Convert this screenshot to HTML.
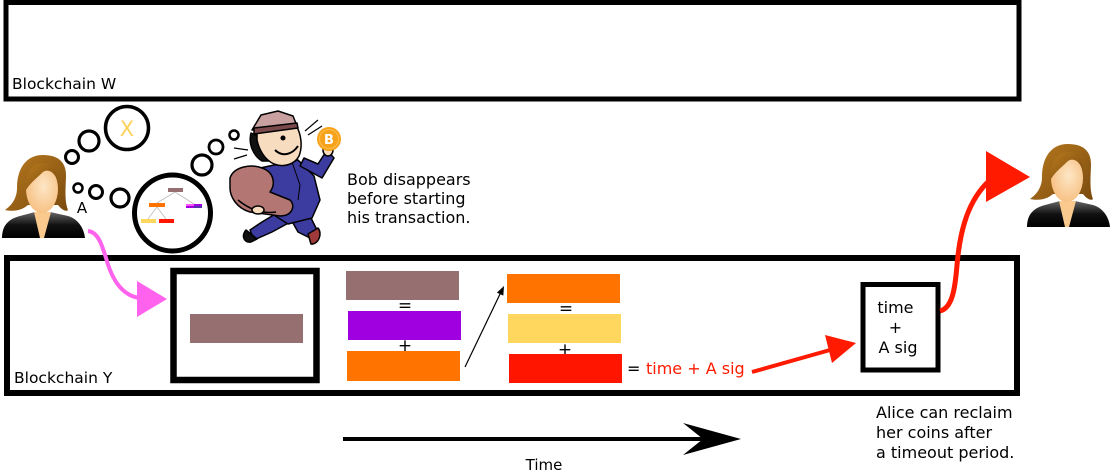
<!DOCTYPE html>
<html><head><meta charset="utf-8"><style>
html,body{margin:0;padding:0;background:#fff;}
svg{display:block;}
text{font-family:"DejaVu Sans","Liberation Sans",sans-serif;}
</style></head><body>
<svg width="1112" height="471" viewBox="0 0 1112 471" xmlns="http://www.w3.org/2000/svg">
<defs>
<linearGradient id="hair" x1="0" y1="0" x2="1" y2="1">
<stop offset="0" stop-color="#b87a1e"/><stop offset="1" stop-color="#7a4a0e"/></linearGradient>
<radialGradient id="skin" cx="0.55" cy="0.45" r="0.6">
<stop offset="0" stop-color="#fde6c6"/><stop offset="1" stop-color="#f7bf80"/></radialGradient>
<linearGradient id="suit" x1="0" y1="0" x2="0" y2="1">
<stop offset="0" stop-color="#666"/><stop offset="0.5" stop-color="#111"/><stop offset="1" stop-color="#000"/></linearGradient>
<g id="alice">
<path d="M43,155 C25,155 17,170 17,188 C17,198 12,205 5,210 C15,212 22,210 28,205 L58,205 C62,210 66,212 68,210 C64,200 66,185 66,175 C66,162 58,155 43,155 Z" fill="url(#hair)"/>
<path d="M2,238 C2,226 8,219 20,216 L35,212 L50,212 L68,216 C78,219 84,228 85,238 Z" fill="url(#suit)"/>
<path d="M34,212 L51,212 L44,238 L40,238 Z" fill="#f9c98e"/>
<ellipse cx="42" cy="189" rx="16" ry="24" fill="url(#skin)"/>
<path d="M26,188 C25,170 34,162 45,163 C53,164 57,170 58,182 C55,173 49,168 43,172 C37,178 31,182 26,190 Z" fill="url(#hair)"/>
</g>
</defs>

<!-- Blockchain W -->
<rect x="6" y="2.5" width="1013" height="96.5" fill="none" stroke="#000" stroke-width="5"/>
<text x="12" y="89" font-size="15.5" fill="#000">Blockchain W</text>

<!-- Blockchain Y -->
<rect x="7" y="258" width="1010" height="135" fill="none" stroke="#000" stroke-width="6"/>
<text x="14" y="383" font-size="15.5" fill="#000">Blockchain Y</text>

<!-- Alice left & right -->
<use href="#alice"/>
<use href="#alice" transform="translate(1025,-11)"/>
<text x="82" y="213" font-size="15" text-anchor="middle" fill="#000">A</text>

<!-- Thought bubbles -->
<g fill="none" stroke="#000">
<circle cx="72" cy="157" r="6.5" stroke-width="3"/>
<circle cx="89" cy="141" r="10" stroke-width="3.2"/>
<circle cx="127" cy="128" r="21.5" stroke-width="3.5"/>
<circle cx="78" cy="188" r="4.5" stroke-width="2.5"/>
<circle cx="96" cy="192" r="6.5" stroke-width="3"/>
<circle cx="120" cy="198" r="9" stroke-width="3.2"/>
<circle cx="172.5" cy="213" r="38" stroke-width="5"/>
<circle cx="202" cy="165" r="10" stroke-width="3.2"/>
<circle cx="216" cy="147" r="7" stroke-width="2.8"/>
<circle cx="234" cy="135" r="4.5" stroke-width="2.5"/>
</g>
<text x="127" y="136" font-size="21" text-anchor="middle" fill="#fcd35a">X</text>

<!-- mini tree -->
<g stroke="#bbb" stroke-width="0.8">
<line x1="175" y1="192" x2="157" y2="203"/>
<line x1="175" y1="192" x2="194" y2="204"/>
<line x1="157" y1="207" x2="148" y2="219"/>
<line x1="157" y1="207" x2="166" y2="219"/>
</g>
<rect x="168" y="188" width="15" height="4" fill="#967070"/>
<rect x="149" y="203" width="16" height="4" fill="#ff7300"/>
<rect x="186" y="204" width="16" height="4" fill="#a000e0"/>
<rect x="186" y="204" width="8" height="2" fill="#ff55ff"/>
<rect x="194" y="206" width="8" height="2" fill="#5533aa"/>
<rect x="141" y="219" width="15" height="4" fill="#ffd75e"/>
<rect x="159" y="219" width="15" height="4" fill="#ff1500"/>

<!-- Bob (simplified clipart) -->
<g stroke="#000" stroke-width="1.5" stroke-linejoin="round">
<!-- legs -->
<path d="M282,210 L262,222 L250,230 L254,240 L272,232 L294,220 Z" fill="#3c3ca0"/>
<path d="M288,214 L298,232 L310,238 L318,232 L308,212 Z" fill="#3c3ca0"/>
<path d="M246,230 C241,236 244,243 251,242 L257,239 Z" fill="#111"/>
<path d="M308,234 L318,228 C323,234 318,245 311,244 Z" fill="#a03a3a"/>
<!-- torso -->
<path d="M260,168 L298,160 L314,176 L320,200 L312,218 L288,224 L266,210 Z" fill="#3c3ca0"/>
<path d="M292,162 L300,185 L298,200" fill="none" stroke-width="1"/>
<!-- raised arm -->
<path d="M300,166 L322,178 L334,158 L327,150 L318,164 L304,158 Z" fill="#3c3ca0"/>
<ellipse cx="328" cy="150" rx="5" ry="6" fill="#f8dcc0"/>
<!-- bag -->
<path d="M230,178 C234,166 252,164 262,168 C274,172 276,184 270,192 L290,200 C296,206 292,216 280,216 L250,212 C236,208 230,196 230,188 Z" fill="#b37673"/>
<path d="M238,200 C250,210 262,214 276,212" fill="none"/>
<ellipse cx="258" cy="210" rx="6" ry="4" fill="#f8dcc0"/>
<!-- head -->
<path d="M251,133 C248,145 254,156 262,161 L269,161 L262,138 Z" fill="#111"/>
<path d="M257,130 L296,125 C301,134 303,146 299,156 C295,164 284,168 274,164 C265,160 259,150 257,140 Z" fill="#f8dcc0"/>
<path d="M275,150 C282,157 292,155 298,146" fill="none" stroke-width="2"/>
<circle cx="283" cy="138" r="1.8" fill="#000"/>
<!-- hat -->
<path d="M252,130 L261,115 L278,111 L293,116 L297,126 Z" fill="#c8a0a0"/>
<path d="M254,128 L297,123 L298,128 L254,134 Z" fill="#7a4a4a"/>
</g>
<g stroke="#000" stroke-width="1.2">
<line x1="305" y1="131" x2="318" y2="120"/>
<line x1="308" y1="135" x2="322" y2="126"/>
<line x1="234" y1="148" x2="248" y2="150"/>
<line x1="234" y1="159" x2="247" y2="155"/>
</g>
<!-- coin -->
<circle cx="329" cy="139" r="12" fill="#f7a21b"/>
<circle cx="329" cy="139" r="9.5" fill="none" stroke="#fbbf4a" stroke-width="1"/>
<text x="329" y="144" font-size="13" font-weight="bold" text-anchor="middle" fill="#fff">B</text>

<text font-size="16" fill="#000">
<tspan x="347" y="185">Bob disappears</tspan>
<tspan x="347" y="204">before starting</tspan>
<tspan x="347" y="223">his transaction.</tspan>
</text>

<!-- pink arrow -->
<path d="M88,231 C98,232 102,245 106,258 C112,280 122,296 140,298" fill="none" stroke="#ff62ec" stroke-width="4"/>
<polygon points="137,281 167,299 137,317" fill="#ff62ec"/>

<!-- first tx box -->
<rect x="173.5" y="271" width="143" height="109" fill="none" stroke="#000" stroke-width="6.5"/>
<rect x="190" y="314" width="113" height="29" fill="#967070"/>

<!-- blocks column 1 -->
<rect x="346" y="271" width="113" height="29" fill="#967070"/>
<text x="405" y="311" font-size="17" text-anchor="middle">=</text>
<rect x="348" y="311" width="113" height="29" fill="#a000e0"/>
<text x="405" y="351" font-size="17" text-anchor="middle">+</text>
<rect x="347" y="351" width="113" height="30" fill="#ff7300"/>

<!-- small black arrow -->
<line x1="465" y1="367" x2="501" y2="292" stroke="#000" stroke-width="1.2"/>
<polygon points="504,286 503.3,295.6 496.9,292.6" fill="#000"/>

<!-- blocks column 2 -->
<rect x="507" y="274" width="113" height="29" fill="#ff7300"/>
<text x="566" y="314" font-size="17" text-anchor="middle">=</text>
<rect x="508" y="314" width="113" height="29" fill="#ffd75e"/>
<text x="565" y="355" font-size="17" text-anchor="middle">+</text>
<rect x="509" y="354" width="113" height="29" fill="#ff1500"/>
<text x="627" y="374" font-size="16" fill="#000">=</text>
<text x="646" y="374" font-size="16" fill="#ff1a00">time + A sig</text>

<!-- red arrow to time box -->
<line x1="752" y1="372" x2="830" y2="350" stroke="#ff1a00" stroke-width="4"/>
<polygon points="825,335 856,343 832,363" fill="#ff1a00"/>

<!-- time box -->
<rect x="863" y="284.5" width="75" height="85.5" fill="none" stroke="#000" stroke-width="5"/>
<text font-size="16" text-anchor="middle" fill="#000">
<tspan x="898" y="313">time</tspan>
<tspan x="898" y="333">+</tspan>
<tspan x="898" y="353">A sig</tspan>
</text>

<!-- red curve to Alice -->
<path d="M940,311 C952,308 955,290 957,265 C960,230 968,200 990,180" fill="none" stroke="#ff1a00" stroke-width="5"/>
<polygon points="986,151 1030,177 986,202" fill="#ff1a00"/>

<text font-size="16" fill="#000">
<tspan x="876" y="418">Alice can reclaim</tspan>
<tspan x="876" y="438">her coins after</tspan>
<tspan x="876" y="458">a timeout period.</tspan>
</text>

<!-- Time arrow -->
<line x1="343" y1="439" x2="706" y2="439" stroke="#000" stroke-width="4"/>
<polygon points="683,423 741,439 683,455 703,439" fill="#000"/>
<text x="544" y="470" font-size="15" text-anchor="middle" fill="#000">Time</text>
</svg>
</body></html>
